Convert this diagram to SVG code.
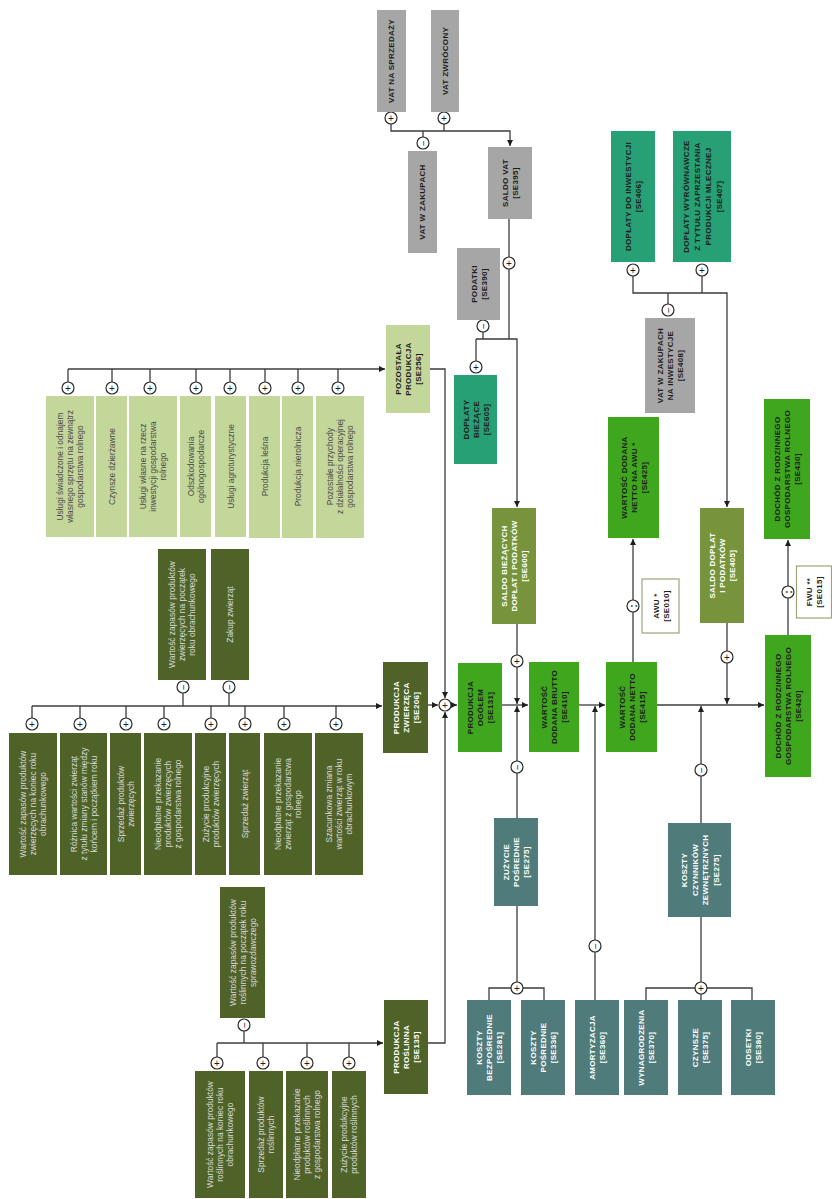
<svg xmlns="http://www.w3.org/2000/svg" width="832" height="1199" viewBox="0 0 832 1199">
<style>
text{font-family:"Liberation Sans",Arial,sans-serif;text-anchor:middle;dominant-baseline:central}
.h{font-size:8px;font-weight:bold;letter-spacing:.3px}
.i{font-size:8.4px}
.dk{fill:#1e1e1e}
.wt{fill:#ffffff}
.lt{fill:#dadada}
.gr{fill:#4a4a4a}
.gray{fill:#a6a6a6}
.lg{fill:#c4d79b}
.ol{fill:#4f6228}
.mo{fill:#77933c}
.bg{fill:#3fa71d}
.tg{fill:#26a074}
.tc{fill:#4f7c7a}
.wb{fill:#ffffff;stroke:#9aa67a;stroke-width:1.2}
.c path{fill:none;stroke:#3c3c3c;stroke-width:1.3}
.op circle{fill:#ffffff;stroke:#2a2a2a;stroke-width:1.2}
.op text{font-size:10px;fill:#1e1e1e}
.op .dv{font-size:11px;font-weight:bold}
</style>
<defs>
<marker id="a" viewBox="0 0 10 10" refX="10" refY="5" markerWidth="6" markerHeight="6" markerUnits="userSpaceOnUse" orient="auto"><path d="M0,0 L10,5 L0,10 z" fill="#1e1e1e"/></marker>
</defs>

<g id="connectors" class="c">
<path d="M391,124 V131 H510 V146" marker-end="url(#a)"/>
<path d="M444,124 V131"/>
<path d="M423,131 V137"/>
<path d="M509,219 V257"/>
<path d="M509,269 V339"/>
<path d="M476,339 H517 V507" marker-end="url(#a)"/>
<path d="M483,332 V339"/>
<path d="M476,339 V361"/>
<path d="M68,369 H385" marker-end="url(#a)"/>
<path d="M68,369 V382 M112,369 V382 M150,369 V382 M196,369 V382 M230,369 V382 M265,369 V382 M298,369 V382 M338,369 V382"/>
<path d="M430,369 H445 V698" marker-end="url(#a)"/>
<path d="M32,706 H382" marker-end="url(#a)"/>
<path d="M183,693 V706 M229,693 V706"/>
<path d="M32,706 V718 M80,706 V718 M126,706 V718 M164,706 V718 M211,706 V718 M245,706 V718 M284,706 V718 M336,706 V718"/>
<path d="M428,705 H438" marker-end="url(#a)"/>
<path d="M217,1043 H383" marker-end="url(#a)"/>
<path d="M244,1031 V1043"/>
<path d="M217,1043 V1057 M263,1043 V1057 M307,1043 V1057 M349,1043 V1057"/>
<path d="M428,1043 H445 V712" marker-end="url(#a)"/>
<path d="M451,705 H457" marker-end="url(#a)"/>
<path d="M502,705 H528" marker-end="url(#a)"/>
<path d="M517,624 V655"/>
<path d="M517,667 V704" marker-end="url(#a)"/>
<path d="M517,818 V773"/>
<path d="M517,761 V706" marker-end="url(#a)"/>
<path d="M579,705 H605" marker-end="url(#a)"/>
<path d="M595,1000 V952"/>
<path d="M595,940 V706" marker-end="url(#a)"/>
<path d="M633,662 V612"/>
<path d="M633,600 V539" marker-end="url(#a)"/>
<path d="M657,705 H764" marker-end="url(#a)"/>
<path d="M633,276 V293 H727 V507" marker-end="url(#a)"/>
<path d="M702,276 V293"/>
<path d="M668,293 V304"/>
<path d="M727,623 V651"/>
<path d="M727,663 V704" marker-end="url(#a)"/>
<path d="M701,823 V776"/>
<path d="M701,764 V706" marker-end="url(#a)"/>
<path d="M788,635 V598"/>
<path d="M788,586 V540" marker-end="url(#a)"/>
<path d="M517,906 V982"/>
<path d="M489,1000 V988 H511 M523,988 H544 V1000"/>
<path d="M701,917 V982"/>
<path d="M646,1000 V988 H695 M707,988 H752 V1000 M701,994 V1000"/>
</g>

<g id="operators" class="op">
<circle cx="391" cy="118" r="6"/><text x="391" y="118">+</text>
<circle cx="444" cy="118" r="6"/><text x="444" y="118">+</text>
<circle cx="423" cy="143" r="6"/><text x="423" y="143" transform="rotate(-90 423 143)">−</text>
<circle cx="509" cy="263" r="6"/><text x="509" y="263">+</text>
<circle cx="483" cy="326" r="6"/><text x="483" y="326" transform="rotate(-90 483 326)">−</text>
<circle cx="476" cy="367" r="6"/><text x="476" y="367">+</text>
<circle cx="68" cy="388" r="6"/><text x="68" y="388">+</text>
<circle cx="112" cy="388" r="6"/><text x="112" y="388">+</text>
<circle cx="150" cy="388" r="6"/><text x="150" y="388">+</text>
<circle cx="196" cy="388" r="6"/><text x="196" y="388">+</text>
<circle cx="230" cy="388" r="6"/><text x="230" y="388">+</text>
<circle cx="265" cy="388" r="6"/><text x="265" y="388">+</text>
<circle cx="298" cy="388" r="6"/><text x="298" y="388">+</text>
<circle cx="338" cy="388" r="6"/><text x="338" y="388">+</text>
<circle cx="183" cy="687" r="6"/><text x="183" y="687" transform="rotate(-90 183 687)">−</text>
<circle cx="229" cy="687" r="6"/><text x="229" y="687" transform="rotate(-90 229 687)">−</text>
<circle cx="32" cy="724" r="6"/><text x="32" y="724">+</text>
<circle cx="80" cy="724" r="6"/><text x="80" y="724">+</text>
<circle cx="126" cy="724" r="6"/><text x="126" y="724">+</text>
<circle cx="164" cy="724" r="6"/><text x="164" y="724">+</text>
<circle cx="211" cy="724" r="6"/><text x="211" y="724">+</text>
<circle cx="245" cy="724" r="6"/><text x="245" y="724">+</text>
<circle cx="284" cy="724" r="6"/><text x="284" y="724">+</text>
<circle cx="336" cy="724" r="6"/><text x="336" y="724">+</text>
<circle cx="244" cy="1025" r="6"/><text x="244" y="1025" transform="rotate(-90 244 1025)">−</text>
<circle cx="217" cy="1063" r="6"/><text x="217" y="1063">+</text>
<circle cx="263" cy="1063" r="6"/><text x="263" y="1063">+</text>
<circle cx="307" cy="1063" r="6"/><text x="307" y="1063">+</text>
<circle cx="349" cy="1063" r="6"/><text x="349" y="1063">+</text>
<circle cx="445" cy="705" r="6"/><text x="445" y="705">+</text>
<circle cx="517" cy="661" r="6"/><text x="517" y="661">+</text>
<circle cx="517" cy="767" r="6"/><text x="517" y="767" transform="rotate(-90 517 767)">−</text>
<circle cx="595" cy="946" r="6"/><text x="595" y="946" transform="rotate(-90 595 946)">−</text>
<circle cx="633" cy="606" r="6"/><text class="dv" x="633" y="606" transform="rotate(-90 633 606)">:</text>
<circle cx="633" cy="270" r="6"/><text x="633" y="270">+</text>
<circle cx="702" cy="270" r="6"/><text x="702" y="270">+</text>
<circle cx="668" cy="310" r="6"/><text x="668" y="310" transform="rotate(-90 668 310)">−</text>
<circle cx="727" cy="657" r="6"/><text x="727" y="657">+</text>
<circle cx="701" cy="770" r="6"/><text x="701" y="770" transform="rotate(-90 701 770)">−</text>
<circle cx="788" cy="592" r="6"/><text class="dv" x="788" y="592" transform="rotate(-90 788 592)">:</text>
<circle cx="517" cy="988" r="6"/><text x="517" y="988">+</text>
<circle cx="701" cy="988" r="6"/><text x="701" y="988">+</text>
</g>

<g id="vat_na_sprzedazy"><rect class="gray" x="377" y="10" width="29" height="102"/><text class="h dk" x="391.5" y="61" transform="rotate(-90 391.5 61)">VAT NA SPRZEDAŻY</text></g>
<g id="vat_zwrocony"><rect class="gray" x="431" y="10" width="28" height="102"/><text class="h dk" x="445" y="61" transform="rotate(-90 445 61)">VAT ZWRÓCONY</text></g>
<g id="vat_w_zakupach"><rect class="gray" x="408" y="151" width="29" height="102"/><text class="h dk" x="422.5" y="202" transform="rotate(-90 422.5 202)">VAT W ZAKUPACH</text></g>
<g id="saldo_vat"><rect class="gray" x="488" y="147" width="44" height="72"/><text class="h dk" transform="rotate(-90 510 183)"><tspan x="510" y="178">SALDO VAT</tspan><tspan x="510" y="188">[SE395]</tspan></text></g>
<g id="podatki"><rect class="gray" x="457" y="248" width="43" height="72"/><text class="h dk" transform="rotate(-90 478.5 284)"><tspan x="478.5" y="279">PODATKI</tspan><tspan x="478.5" y="289">[SE390]</tspan></text></g>
<g id="doplaty_biezace"><rect class="tg" x="454" y="375" width="43" height="89"/><text class="h dk" transform="rotate(-90 475.5 419.5)"><tspan x="475.5" y="409.5">DOPŁATY</tspan><tspan x="475.5" y="419.5">BIEŻĄCE</tspan><tspan x="475.5" y="429.5">[SE605]</tspan></text></g>
<g id="pozostala_produkcja"><rect class="lg" x="386" y="325" width="44" height="88"/><text class="h dk" transform="rotate(-90 408 369)"><tspan x="408" y="359">POZOSTAŁA</tspan><tspan x="408" y="369">PRODUKCJA</tspan><tspan x="408" y="379">[SE256]</tspan></text></g>
<g id="produkcja_zwierzeca"><rect class="ol" x="383" y="662" width="45" height="91"/><text class="h wt" transform="rotate(-90 405.5 707.5)"><tspan x="405.5" y="697.5">PRODUKCJA</tspan><tspan x="405.5" y="707.5">ZWIERZĘCA</tspan><tspan x="405.5" y="717.5">[SE206]</tspan></text></g>
<g id="produkcja_roslinna"><rect class="ol" x="384" y="1000" width="44" height="94"/><text class="h wt" transform="rotate(-90 406 1047)"><tspan x="406" y="1037">PRODUKCJA</tspan><tspan x="406" y="1047">ROŚLINNA</tspan><tspan x="406" y="1057">[SE135]</tspan></text></g>
<g id="produkcja_ogolem"><rect class="bg" x="458" y="663" width="44" height="89"/><text class="h dk" transform="rotate(-90 480 707.5)"><tspan x="480" y="697.5">PRODUKCJA</tspan><tspan x="480" y="707.5">OGÓŁEM</tspan><tspan x="480" y="717.5">[SE131]</tspan></text></g>
<g id="saldo_biezacych"><rect class="mo" x="492" y="508" width="44" height="116"/><text class="h wt" transform="rotate(-90 514 566)"><tspan x="514" y="556">SALDO BIEŻĄCYCH</tspan><tspan x="514" y="566">DOPŁAT I PODATKÓW</tspan><tspan x="514" y="576">[SE600]</tspan></text></g>
<g id="wartosc_brutto"><rect class="bg" x="529" y="662" width="50" height="90"/><text class="h dk" transform="rotate(-90 554 707)"><tspan x="554" y="697">WARTOŚĆ</tspan><tspan x="554" y="707">DODANA BRUTTO</tspan><tspan x="554" y="717">[SE410]</tspan></text></g>
<g id="wartosc_netto"><rect class="bg" x="606" y="662" width="51" height="90"/><text class="h dk" transform="rotate(-90 631.5 707)"><tspan x="631.5" y="697">WARTOŚĆ</tspan><tspan x="631.5" y="707">DODANA NETTO</tspan><tspan x="631.5" y="717">[SE415]</tspan></text></g>
<g id="netto_na_awu"><rect class="bg" x="608" y="417" width="51" height="121"/><text class="h dk" transform="rotate(-90 633.5 477.5)"><tspan x="633.5" y="467.5">WARTOŚĆ DODANA</tspan><tspan x="633.5" y="477.5">NETTO NA AWU *</tspan><tspan x="633.5" y="487.5">[SE425]</tspan></text></g>
<g id="awu"><rect class="wb" x="642" y="579" width="37" height="54"/><text class="h dk" transform="rotate(-90 660.5 606)"><tspan x="660.5" y="601">AWU *</tspan><tspan x="660.5" y="611">[SE010]</tspan></text></g>
<g id="doplaty_inwestycji"><rect class="tg" x="611" y="131" width="44" height="131"/><text class="h dk" transform="rotate(-90 633 196.5)"><tspan x="633" y="191.5">DOPŁATY DO INWESTYCJI</tspan><tspan x="633" y="201.5">[SE406]</tspan></text></g>
<g id="doplaty_wyrownawcze"><rect class="tg" x="673" y="131" width="58" height="131"/><text class="h dk" transform="rotate(-90 702 196.5)"><tspan x="702" y="180">DOPŁATY WYRÓWNAWCZE</tspan><tspan x="702" y="191">Z TYTUŁU ZAPRZESTANIA</tspan><tspan x="702" y="202">PRODUKCJI MLECZNEJ</tspan><tspan x="702" y="213">[SE407]</tspan></text></g>
<g id="vat_inwestycje"><rect class="gray" x="645" y="318" width="50" height="95"/><text class="h dk" transform="rotate(-90 670 365.5)"><tspan x="670" y="355.5">VAT W ZAKUPACH</tspan><tspan x="670" y="365.5">NA INWESTYCJE</tspan><tspan x="670" y="375.5">[SE408]</tspan></text></g>
<g id="saldo_doplat"><rect class="mo" x="700" y="508" width="44" height="115"/><text class="h wt" transform="rotate(-90 722 565.5)"><tspan x="722" y="555.5">SALDO DOPŁAT</tspan><tspan x="722" y="565.5">I PODATKÓW</tspan><tspan x="722" y="575.5">[SE405]</tspan></text></g>
<g id="dochod_se420"><rect class="bg" x="765" y="635" width="46" height="142"/><text class="h dk" transform="rotate(-90 788 706)"><tspan x="788" y="696">DOCHÓD Z RODZINNEGO</tspan><tspan x="788" y="706">GOSPODARSTWA ROLNEGO</tspan><tspan x="788" y="716">[SE420]</tspan></text></g>
<g id="dochod_se430"><rect class="bg" x="764" y="399" width="46" height="140"/><text class="h dk" transform="rotate(-90 787 469)"><tspan x="787" y="459">DOCHÓD Z RODZINNEGO</tspan><tspan x="787" y="469">GOSPODARSTWA ROLNEGO</tspan><tspan x="787" y="479">[SE430]</tspan></text></g>
<g id="fwu"><rect class="wb" x="796.5" y="566" width="35" height="52"/><text class="h dk" transform="rotate(-90 814 592)"><tspan x="814" y="587">FWU **</tspan><tspan x="814" y="597">[SE015]</tspan></text></g>
<g id="zuzycie_posrednie"><rect class="tc" x="494" y="818" width="44" height="88"/><text class="h wt" transform="rotate(-90 516 862)"><tspan x="516" y="852">ZUŻYCIE</tspan><tspan x="516" y="862">POŚREDNIE</tspan><tspan x="516" y="872">[SE275]</tspan></text></g>
<g id="koszty_czynnikow"><rect class="tc" x="668" y="823" width="63" height="94"/><text class="h wt" transform="rotate(-90 699.5 870)"><tspan x="699.5" y="854.5">KOSZTY</tspan><tspan x="699.5" y="865">CZYNNIKÓW</tspan><tspan x="699.5" y="875.5">ZEWNĘTRZNYCH</tspan><tspan x="699.5" y="886">[SE275]</tspan></text></g>
<g id="koszty_bezposrednie"><rect class="tc" x="467" y="1000" width="44" height="95"/><text class="h wt" transform="rotate(-90 489 1047.5)"><tspan x="489" y="1037.5">KOSZTY</tspan><tspan x="489" y="1047.5">BEZPOŚREDNIE</tspan><tspan x="489" y="1057.5">[SE281]</tspan></text></g>
<g id="koszty_posrednie"><rect class="tc" x="521" y="1000" width="44" height="95"/><text class="h wt" transform="rotate(-90 543 1047.5)"><tspan x="543" y="1037.5">KOSZTY</tspan><tspan x="543" y="1047.5">POŚREDNIE</tspan><tspan x="543" y="1057.5">[SE336]</tspan></text></g>
<g id="amortyzacja"><rect class="tc" x="575" y="1000" width="44" height="95"/><text class="h wt" transform="rotate(-90 597 1047.5)"><tspan x="597" y="1042.5">AMORTYZACJA</tspan><tspan x="597" y="1052.5">[SE360]</tspan></text></g>
<g id="wynagrodzenia"><rect class="tc" x="624" y="1000" width="44" height="95"/><text class="h wt" transform="rotate(-90 646 1047.5)"><tspan x="646" y="1042.5">WYNAGRODZENIA</tspan><tspan x="646" y="1052.5">[SE370]</tspan></text></g>
<g id="czynsze"><rect class="tc" x="678" y="1000" width="44" height="95"/><text class="h wt" transform="rotate(-90 700 1047.5)"><tspan x="700" y="1042.5">CZYNSZE</tspan><tspan x="700" y="1052.5">[SE375]</tspan></text></g>
<g id="odsetki"><rect class="tc" x="731" y="1000" width="44" height="95"/><text class="h wt" transform="rotate(-90 753 1047.5)"><tspan x="753" y="1042.5">ODSETKI</tspan><tspan x="753" y="1052.5">[SE380]</tspan></text></g>

<g id="poz_1"><rect class="lg" x="46" y="396" width="48" height="141"/><text class="i gr" transform="rotate(-90 70 466.5)"><tspan x="70" y="456.5">Usługi świadczone i odnajem</tspan><tspan x="70" y="466.5">własnego sprzętu na zewnątrz</tspan><tspan x="70" y="476.5">gospodarstwa rolnego</tspan></text></g>
<g id="poz_2"><rect class="lg" x="96" y="396" width="31" height="141"/><text class="i gr" x="111.5" y="466.5" transform="rotate(-90 111.5 466.5)">Czynsze dzierżawne</text></g>
<g id="poz_3"><rect class="lg" x="129" y="396" width="48" height="141"/><text class="i gr" transform="rotate(-90 153 466.5)"><tspan x="153" y="456.5">Usługi własne na rzecz</tspan><tspan x="153" y="466.5">inwestycji gospodarstwa</tspan><tspan x="153" y="476.5">rolnego</tspan></text></g>
<g id="poz_4"><rect class="lg" x="180" y="396" width="31" height="141"/><text class="i gr" transform="rotate(-90 195.5 466.5)"><tspan x="195.5" y="461.5">Odszkodowania</tspan><tspan x="195.5" y="471.5">ogólnogospodarcze</tspan></text></g>
<g id="poz_5"><rect class="lg" x="215" y="396" width="31" height="141"/><text class="i gr" x="230.5" y="466.5" transform="rotate(-90 230.5 466.5)">Usługi agroturystyczne</text></g>
<g id="poz_6"><rect class="lg" x="249" y="396" width="31" height="142"/><text class="i gr" x="264.5" y="466.5" transform="rotate(-90 264.5 466.5)">Produkcja leśna</text></g>
<g id="poz_7"><rect class="lg" x="282" y="396" width="31" height="142"/><text class="i gr" x="297.5" y="466.5" transform="rotate(-90 297.5 466.5)">Produkcja nierolnicza</text></g>
<g id="poz_8"><rect class="lg" x="316" y="396" width="48" height="142"/><text class="i gr" transform="rotate(-90 340 466.5)"><tspan x="340" y="456.5">Pozostałe przychody</tspan><tspan x="340" y="466.5">z działalności operacyjnej</tspan><tspan x="340" y="476.5">gospodarstwa rolnego</tspan></text></g>

<g id="zw_top_1"><rect class="ol" x="158" y="549" width="48" height="131"/><text class="i lt" transform="rotate(-90 182 614.5)"><tspan x="182" y="604.5">Wartość zapasów produktów</tspan><tspan x="182" y="614.5">zwierzęcych na początek</tspan><tspan x="182" y="624.5">roku obrachunkowego</tspan></text></g>
<g id="zw_top_2"><rect class="ol" x="211" y="549" width="38" height="131"/><text class="i lt" x="230" y="614.5" transform="rotate(-90 230 614.5)">Zakup zwierząt</text></g>
<g id="zw_1"><rect class="ol" x="9" y="733" width="48" height="142"/><text class="i lt" transform="rotate(-90 33 804)"><tspan x="33" y="794">Wartość zapasów produktów</tspan><tspan x="33" y="804">zwierzęcych na koniec roku</tspan><tspan x="33" y="814">obrachunkowego</tspan></text></g>
<g id="zw_2"><rect class="ol" x="60" y="733" width="47" height="142"/><text class="i lt" transform="rotate(-90 83.5 804)"><tspan x="83.5" y="794">Różnica wartości zwierząt</tspan><tspan x="83.5" y="804">z tytułu zmiany stanów między</tspan><tspan x="83.5" y="814">końcem i początkiem roku</tspan></text></g>
<g id="zw_3"><rect class="ol" x="110" y="733" width="31" height="142"/><text class="i lt" transform="rotate(-90 125.5 804)"><tspan x="125.5" y="799">Sprzedaż produktów</tspan><tspan x="125.5" y="809">zwierzęcych</tspan></text></g>
<g id="zw_4"><rect class="ol" x="144" y="733" width="48" height="142"/><text class="i lt" transform="rotate(-90 168 804)"><tspan x="168" y="794">Nieodpłatne przekazanie</tspan><tspan x="168" y="804">produktów zwierzęcych</tspan><tspan x="168" y="814">z gospodarstwa rolnego</tspan></text></g>
<g id="zw_5"><rect class="ol" x="195" y="733" width="31" height="142"/><text class="i lt" transform="rotate(-90 210.5 804)"><tspan x="210.5" y="799">Zużycie produkcyjne</tspan><tspan x="210.5" y="809">produktów zwierzęcych</tspan></text></g>
<g id="zw_6"><rect class="ol" x="229" y="733" width="31" height="142"/><text class="i lt" x="244.5" y="804" transform="rotate(-90 244.5 804)">Sprzedaż zwierząt</text></g>
<g id="zw_7"><rect class="ol" x="264" y="733" width="48" height="142"/><text class="i lt" transform="rotate(-90 288 804)"><tspan x="288" y="794">Nieodpłatne przekazanie</tspan><tspan x="288" y="804">zwierząt z gospodarstwa</tspan><tspan x="288" y="814">rolnego</tspan></text></g>
<g id="zw_8"><rect class="ol" x="315" y="733" width="48" height="142"/><text class="i lt" transform="rotate(-90 339 804)"><tspan x="339" y="794">Szacunkowa zmiana</tspan><tspan x="339" y="804">wartości zwierząt w roku</tspan><tspan x="339" y="814">obrachunkowym</tspan></text></g>

<g id="ro_top"><rect class="ol" x="220" y="887" width="45" height="131"/><text class="i lt" transform="rotate(-90 242.5 952.5)"><tspan x="242.5" y="942.5">Wartość zapasów produktów</tspan><tspan x="242.5" y="952.5">roślinnych na początek roku</tspan><tspan x="242.5" y="962.5">sprawozdawczego</tspan></text></g>
<g id="ro_1"><rect class="ol" x="195" y="1071" width="50" height="127"/><text class="i lt" transform="rotate(-90 220 1134.5)"><tspan x="220" y="1124.5">Wartość zapasów produktów</tspan><tspan x="220" y="1134.5">roślinnych na koniec roku</tspan><tspan x="220" y="1144.5">obrachunkowego</tspan></text></g>
<g id="ro_2"><rect class="ol" x="249" y="1071" width="34" height="127"/><text class="i lt" transform="rotate(-90 266 1134.5)"><tspan x="266" y="1129.5">Sprzedaż produktów</tspan><tspan x="266" y="1139.5">roślinnych</tspan></text></g>
<g id="ro_3"><rect class="ol" x="286" y="1071" width="42" height="127"/><text class="i lt" transform="rotate(-90 307 1134.5)"><tspan x="307" y="1124.5">Nieodpłatne przekazanie</tspan><tspan x="307" y="1134.5">produktów roślinnych</tspan><tspan x="307" y="1144.5">z gospodarstwa rolnego</tspan></text></g>
<g id="ro_4"><rect class="ol" x="332" y="1071" width="34" height="127"/><text class="i lt" transform="rotate(-90 349 1134.5)"><tspan x="349" y="1129.5">Zużycie produkcyjne</tspan><tspan x="349" y="1139.5">produktów roślinnych</tspan></text></g>
</svg>
